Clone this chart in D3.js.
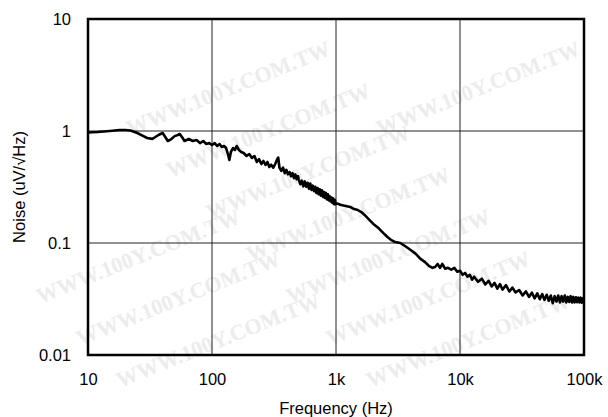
<!DOCTYPE html>
<html>
<head>
<meta charset="utf-8">
<script src="https://cdn.jsdelivr.net/npm/d3@7"></script>
<style>
  html, body { margin: 0; padding: 0; background: #fff; }
  svg { display: block; font-family: Arial, "Liberation Sans", sans-serif; }
</style>
</head>
<body>
<svg id="chart" width="608" height="417"></svg>
<script>
// Frequency (Hz)
const freq = [10,12,15,18,20,22,25,28,30,33,35,37,40,42,44,47,50,53,55,58,60,65,70,75,80,85,90,95,
  100,105,110,115,120,125,130,135,138,142,148,153,158,165,172,180,190,200,210,220,230,240,250,260,270,280,290,
  300,312,324,336,342,350,362,374,386,398,410,422,434,446,458,470,482,494,
  500,515,530,545,560,575,590,605,620,635,650,665,680,695,710,725,740,755,770,785,800,815,830,845,860,875,890,905,920,935,950,965,980,990,
  1000,1050,1100,1200,1300,1400,1500,1600,1700,1800,1900,2000,2200,2400,2600,2800,3000,
  3300,3600,4000,4400,4800,5200,5600,6000,6300,6600,6900,7200,7600,8000,8500,9000,9500,10000,10500,11000,11500,
  12000,12500,13000,14000,15000,16000,17000,18000,19000,20000,21000,22000,23500,25000,26500,28000,
  30000,32000,34000,36000,38000,40000,42000,44000,46000,48000,50000,52000,54000,56000,58000,60000,62000,64000,66000,68000,
  70000,72000,74000,76000,78000,80000,82000,84000,86000,88000,90000,92000,94000,96000,98000,100000];
// Noise (uV/√Hz)
const noise = [0.97,0.98,1.0,1.02,1.02,1.01,0.96,0.90,0.866,0.85,0.884,0.921,0.96,0.884,0.814,0.848,0.90,0.921,0.94,0.866,0.814,0.848,0.814,0.831,0.78,0.814,0.765,0.78,
  0.75,0.78,0.735,0.765,0.72,0.735,0.705,0.61,0.551,0.65,0.705,0.677,0.735,0.677,0.65,0.636,0.598,0.623,0.574,0.598,0.529,0.56,0.507,0.54,0.497,0.529,0.477,
  0.50,0.47,0.51,0.56,0.58,0.47,0.44,0.47,0.42,0.45,0.41,0.43,0.395,0.42,0.38,0.41,0.37,0.395,
  0.37,0.335,0.36,0.32,0.355,0.318,0.345,0.305,0.34,0.298,0.325,0.29,0.318,0.28,0.31,0.272,0.302,0.265,0.295,0.258,0.285,0.252,0.28,0.245,0.272,0.24,0.262,0.235,0.255,0.228,0.25,0.222,0.242,0.222,
  0.226,0.223,0.218,0.214,0.21,0.201,0.197,0.189,0.178,0.167,0.157,0.148,0.136,0.123,0.113,0.106,0.102,
  0.1,0.094,0.0866,0.080,0.0722,0.0679,0.0626,0.060,0.061,0.065,0.060,0.065,0.0589,0.060,0.0577,0.060,0.0554,0.0565,0.052,0.054,0.050,
  0.052,0.047,0.050,0.045,0.048,0.0426,0.046,0.0409,0.044,0.0392,0.043,0.0384,0.042,0.0369,0.040,0.0362,
  0.038,0.034,0.037,0.033,0.036,0.032,0.0355,0.0315,0.035,0.031,0.0345,0.0305,0.034,0.029,0.0335,0.030,0.034,0.0295,0.0335,0.030,
  0.034,0.0295,0.033,0.0298,0.0335,0.0295,0.033,0.0295,0.0328,0.0296,0.0325,0.0295,0.0325,0.0293,0.032,0.030];
const xTicks = [10,100,1000,10000,100000];
const xTickLabels = ["10","100","1k","10k","100k"];
const yTicks = [0.01,0.1,1,10];
const yTickLabels = ["0.01","0.1","1","10"];
const xTitle = "Frequency (Hz)";
const yTitle = "Noise (uV/\u221AHz)";
const watermark = "WWW.100Y.COM.TW";

const svg = d3.select("#chart");
const W = 608, H = 417;
const m = {left: 88, right: 24, top: 19, bottom: 62};
const iw = W - m.left - m.right, ih = H - m.top - m.bottom;

// faint watermark (only copies that fit fully inside the picture)
const wm = svg.append("g");
for (let r = -4; r < 16; r++) {
  for (let c = -2; c < 4; c++) {
    const tx = c * 250 + r * 40 + 10;
    const ty = r * 42 + 10;
    const t = wm.append("text")
      .attr("transform", `translate(${tx},${ty}) rotate(-22)`)
      .attr("font-family", "'Liberation Serif', 'DejaVu Serif', serif")
      .attr("font-weight", "bold")
      .attr("font-size", 22)
      .attr("fill", "#ececec")
      .text(watermark);
    const b = t.node().getBoundingClientRect();
    if (b.left < 0 || b.top < 0 || b.right > W || b.bottom > H) t.remove();
  }
}

const g = svg.append("g").attr("transform", `translate(${m.left},${m.top})`);
const x = d3.scaleLog().domain([10, 100000]).range([0, iw]);
const y = d3.scaleLog().domain([0.01, 10]).range([ih, 0]);

// grid
g.append("g").selectAll("line").data(xTicks.slice(1, -1)).join("line")
  .attr("x1", d => x(d)).attr("x2", d => x(d)).attr("y1", 0).attr("y2", ih)
  .attr("stroke", "#222").attr("stroke-width", 1);
g.append("g").selectAll("line").data(yTicks.slice(1, -1)).join("line")
  .attr("y1", d => y(d)).attr("y2", d => y(d)).attr("x1", 0).attr("x2", iw)
  .attr("stroke", "#222").attr("stroke-width", 1);

// curve
const pts = freq.map((f, i) => [f, noise[i]]);
g.append("path").datum(pts)
  .attr("fill", "none").attr("stroke", "#000").attr("stroke-width", 2.6)
  .attr("stroke-linejoin", "round")
  .attr("d", d3.line().x(d => x(d[0])).y(d => y(d[1])));

// frame
g.append("rect").attr("x", 0).attr("y", 0).attr("width", iw).attr("height", ih)
  .attr("fill", "none").attr("stroke", "#000").attr("stroke-width", 2.5);

// axes
const xAxis = d3.axisBottom(x).tickValues(xTicks).tickSize(0).tickPadding(0)
  .tickFormat((d, i) => xTickLabels[i]);
const xa = g.append("g").attr("transform", `translate(0,${ih})`).call(xAxis);
xa.select(".domain").remove();
xa.selectAll("text").attr("font-size", 16.5).attr("fill", "#000")
  .attr("font-family", "Arial, 'Liberation Sans', sans-serif")
  .attr("dy", null).attr("y", 30);

const yAxis = d3.axisLeft(y).tickValues(yTicks).tickSize(0).tickPadding(0)
  .tickFormat((d, i) => yTickLabels[i]);
const ya = g.append("g").call(yAxis);
ya.select(".domain").remove();
ya.selectAll("text").attr("font-size", 16.5).attr("fill", "#000")
  .attr("font-family", "Arial, 'Liberation Sans', sans-serif")
  .attr("x", -17).attr("dy", "0.36em");

svg.append("text").attr("x", m.left + iw / 2).attr("y", 414)
  .attr("text-anchor", "middle").attr("font-size", 16.5).text(xTitle);
svg.append("text").attr("transform", `translate(25,${m.top + ih / 2}) rotate(-90)`)
  .attr("text-anchor", "middle").attr("font-size", 16.5).text(yTitle);
</script>
</body>
</html>
